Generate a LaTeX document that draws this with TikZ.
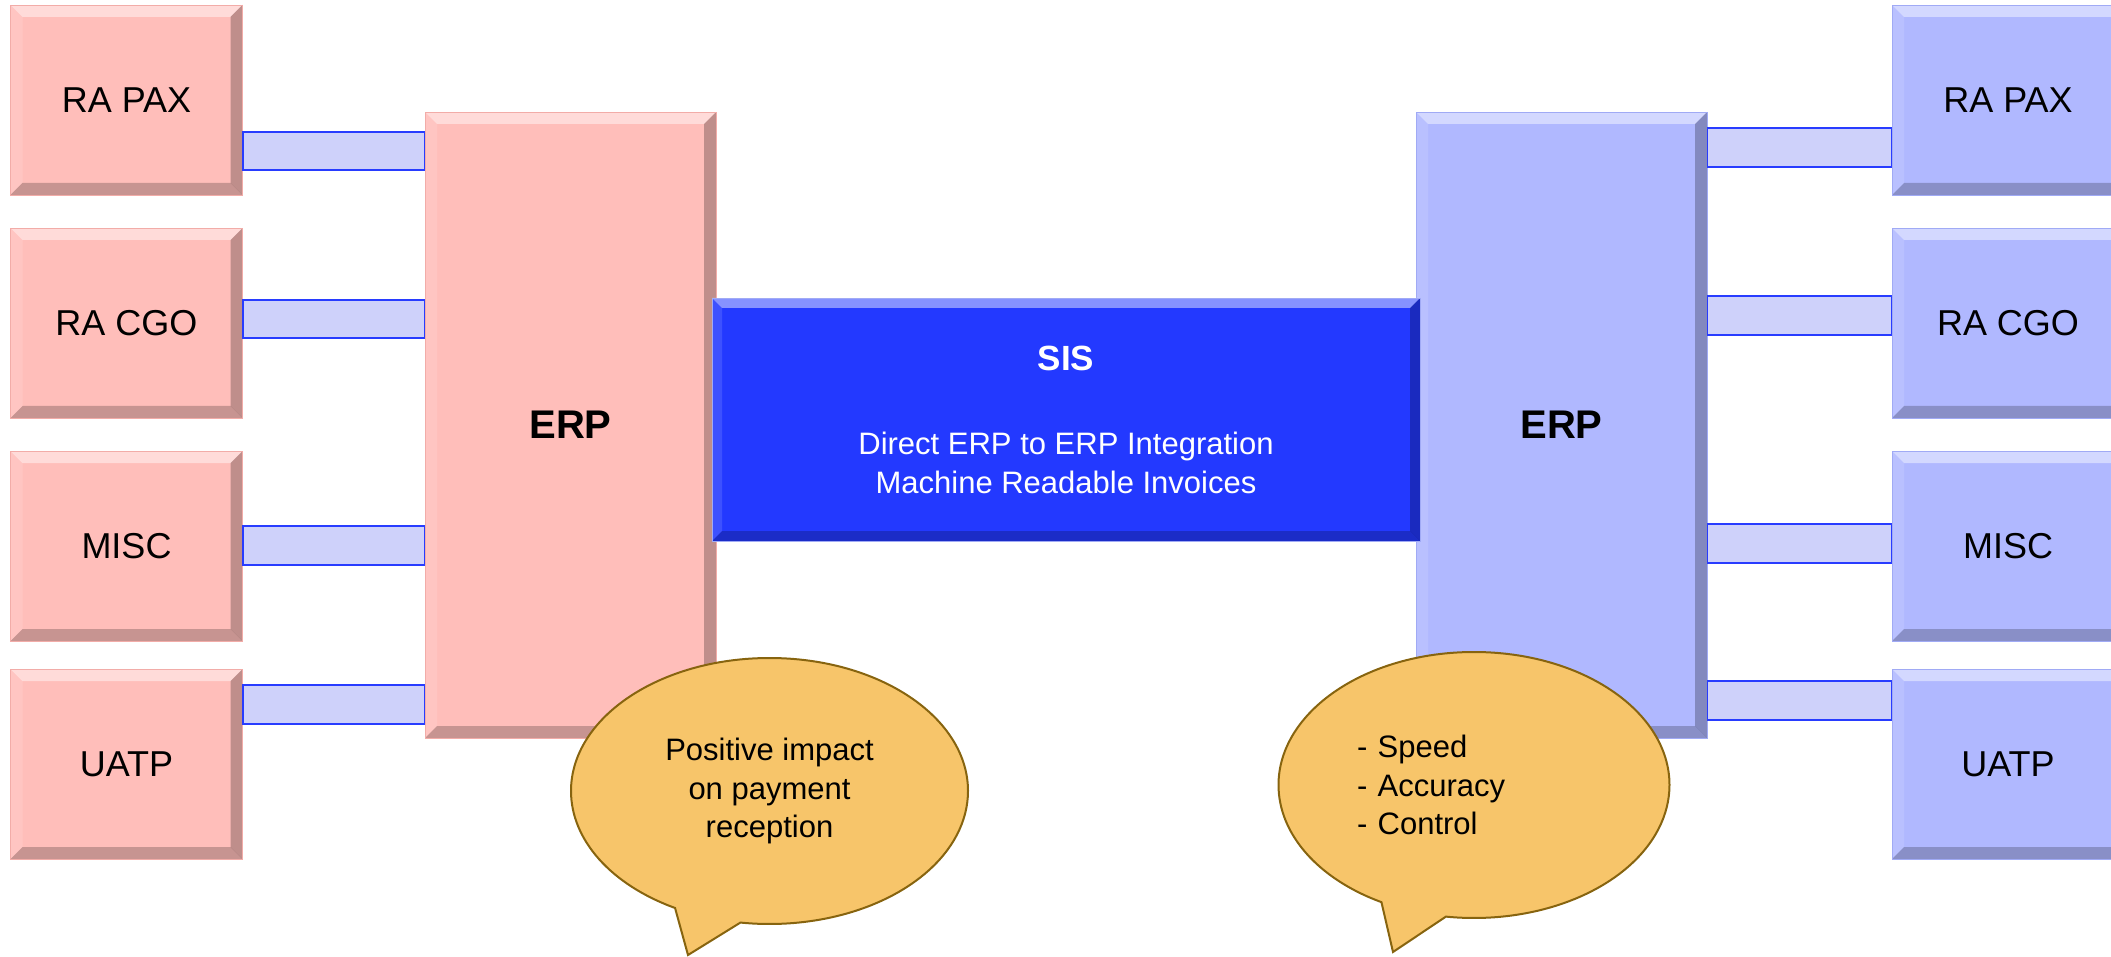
\documentclass[tikz,border=0pt]{standalone}
\usepackage{fontspec}
\setmainfont{Liberation Sans}
\usetikzlibrary{shapes.callouts}

\definecolor{pinkbox}{RGB}{255,190,186}
\definecolor{pinkedge}{RGB}{242,172,168}
\definecolor{bluebox}{RGB}{176,184,255}
\definecolor{blueedge}{RGB}{160,170,245}
\definecolor{barfill}{RGB}{206,209,250}
\definecolor{barline}{RGB}{40,60,255}
\definecolor{sisblue}{RGB}{35,57,255}
\definecolor{notefill}{RGB}{247,197,106}
\definecolor{noteline}{RGB}{135,100,15}

\tikzset{bevel/.style = {path picture = {
           \coordinate (bnw) at (path picture bounding box.north west);
           \coordinate (bse) at (path picture bounding box.south east);
           \fill[white,opacity=.45] (bnw) -- (bnw -| bse) -- ++(-#1,-#1) -- ([shift={(#1,-#1)}]bnw) -- cycle;
           \fill[white,opacity=.12] (bnw) -- (bse -| bnw) -- ++(#1,#1) -- ([shift={(#1,-#1)}]bnw) -- cycle;
           \fill[black,opacity=.25] (bse) -- (bnw -| bse) -- ++(-#1,-#1) -- ([shift={(-#1,#1)}]bse) -- cycle;
           \fill[black,opacity=.22] (bse) -- (bse -| bnw) -- ++(#1,#1) -- ([shift={(-#1,#1)}]bse) -- cycle;
          }},
         bevel/.default=6pt
        }
\tikzset{lbox/.style = {rectangle, fill=pinkbox, draw=pinkedge, bevel,
                        minimum width=116pt, minimum height=95pt,
                        font=\fontsize{18}{22}\selectfont},
         rbox/.style = {lbox, fill=bluebox, draw=blueedge},
         erp/.style = {rectangle, bevel, minimum width=145.5pt, minimum height=313pt,
                       font=\bfseries\fontsize{20}{24}\selectfont},
         bar/.style = {fill=barfill, draw=barline, line width=.6pt},
         note/.style = {ellipse callout, fill=notefill, draw=noteline, line width=1pt,
                        callout pointer arc=20, align=center,
                        font=\fontsize{15.5}{19.25}\selectfont}
        }

\begin{document}
\begin{tikzpicture}[x=0.5pt,y=-0.5pt]
\useasboundingbox (0,0) rectangle (2111,957);
\clip (0,0) rectangle (2111,957);

% left side
\node[lbox] (lpax)  at (126.5,100) {RA PAX};
\node[lbox] (lcgo)  at (126.5,323) {RA CGO};
\node[lbox] (lmisc) at (126.5,546) {MISC};
\node[lbox] (luatp) at (126.5,764) {UATP};
\node[erp, fill=pinkbox, draw=pinkedge] (lerp) at (570.5,425) {ERP};

% right side
\node[rbox] (rpax)  at (2008,100) {RA PAX};
\node[rbox] (rcgo)  at (2008,323) {RA CGO};
\node[rbox] (rmisc) at (2008,546) {MISC};
\node[rbox] (ruatp) at (2008,764) {UATP};
\node[erp, fill=bluebox, draw=blueedge] (rerp) at (1561.5,425) {ERP};

% links
\draw[bar] (lpax.east |- 0,132)  rectangle (lerp.west |- 0,170);
\draw[bar] (lcgo.east |- 0,300)  rectangle (lerp.west |- 0,338);
\draw[bar] (lmisc.east |- 0,526) rectangle (lerp.west |- 0,565);
\draw[bar] (luatp.east |- 0,685) rectangle (lerp.west |- 0,724);
\draw[bar] (rerp.east |- 0,128) rectangle (rpax.west |- 0,167);
\draw[bar] (rerp.east |- 0,296) rectangle (rcgo.west |- 0,335);
\draw[bar] (rerp.east |- 0,524) rectangle (rmisc.west |- 0,563);
\draw[bar] (rerp.east |- 0,681) rectangle (ruatp.west |- 0,720);

\node[rectangle, bevel=5pt, fill=sisblue, draw=blueedge, text=white, align=center,
      minimum width=354pt, minimum height=121.5pt,
      font=\fontsize{15.5}{19.25}\selectfont] (sis) at (1066,419.5)
      {{\bfseries\fontsize{17.5}{21}\selectfont SIS}\\[23pt]
       Direct ERP to ERP Integration\\Machine Readable Invoices};

% notes
\node[note, minimum width=198.5pt, minimum height=133pt,
      callout absolute pointer={(688,955)}] (lnote) at (769.5,791)
      {Positive impact\\on payment\\reception};
\node[note, minimum width=195.5pt, minimum height=133pt, align=left, text width=117pt,
      callout absolute pointer={(1393,952)}] (rnote) at (1474,785)
      {- Speed\\- Accuracy\\- Control};
\end{tikzpicture}
\end{document}
